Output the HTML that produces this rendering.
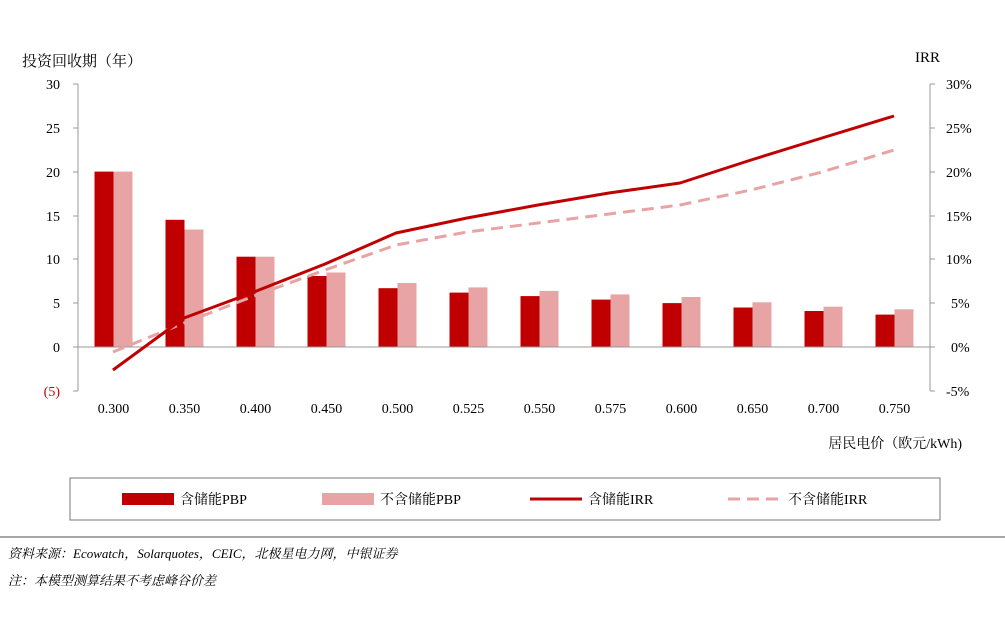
<!DOCTYPE html>
<html><head><meta charset="utf-8"><style>
body{margin:0;background:#fff;}
svg text{font-family:"Liberation Serif","Noto Serif CJK SC",serif;}
</style></head><body>
<svg width="1005" height="613" xmlns="http://www.w3.org/2000/svg">
<rect width="1005" height="613" fill="#fff"/>
<text x="22" y="66" font-size="15" font-family="Liberation Sans,Noto Sans CJK SC,sans-serif">投资回收期（年）</text>
<text x="915" y="62" font-size="15">IRR</text>
<g font-size="14" text-anchor="end">
<text x="60" y="89">30</text><text x="60" y="133">25</text><text x="60" y="177">20</text>
<text x="60" y="221">15</text><text x="60" y="264">10</text><text x="60" y="308">5</text>
<text x="60" y="352">0</text><text x="60" y="396" fill="#c00000">(5)</text>
</g>
<g font-size="14" text-anchor="start">
<text x="946" y="89">30%</text><text x="946" y="133">25%</text><text x="946" y="177">20%</text>
<text x="946" y="221">15%</text><text x="946" y="264">10%</text><text x="951" y="308">5%</text>
<text x="951" y="352">0%</text><text x="946" y="396">-5%</text>
</g>
<g fill="#c00000">
<rect x="94.5" y="171.6" width="19" height="175.4"/>
<rect x="165.5" y="219.8" width="19" height="127.2"/>
<rect x="236.5" y="256.7" width="19" height="90.3"/>
<rect x="307.5" y="276" width="19" height="71"/>
<rect x="378.5" y="288.2" width="19" height="58.8"/>
<rect x="449.5" y="292.6" width="19" height="54.4"/>
<rect x="520.5" y="296.1" width="19" height="50.9"/>
<rect x="591.5" y="299.6" width="19" height="47.4"/>
<rect x="662.5" y="303.1" width="19" height="43.9"/>
<rect x="733.5" y="307.5" width="19" height="39.5"/>
<rect x="804.5" y="311" width="19" height="36"/>
<rect x="875.5" y="314.6" width="19" height="32.4"/>
</g>
<g fill="#e8a4a4">
<rect x="113.5" y="171.6" width="19" height="175.4"/>
<rect x="184.5" y="229.5" width="19" height="117.5"/>
<rect x="255.5" y="256.7" width="19" height="90.3"/>
<rect x="326.5" y="272.5" width="19" height="74.5"/>
<rect x="397.5" y="283" width="19" height="64"/>
<rect x="468.5" y="287.4" width="19" height="59.6"/>
<rect x="539.5" y="290.9" width="19" height="56.1"/>
<rect x="610.5" y="294.4" width="19" height="52.6"/>
<rect x="681.5" y="297" width="19" height="50"/>
<rect x="752.5" y="302.3" width="19" height="44.7"/>
<rect x="823.5" y="306.7" width="19" height="40.3"/>
<rect x="894.5" y="309.3" width="19" height="37.7"/>
</g>
<g font-size="14" text-anchor="middle">
<text x="113.5" y="413">0.300</text><text x="184.5" y="413">0.350</text><text x="255.5" y="413">0.400</text>
<text x="326.5" y="413">0.450</text><text x="397.5" y="413">0.500</text><text x="468.5" y="413">0.525</text>
<text x="539.5" y="413">0.550</text><text x="610.5" y="413">0.575</text><text x="681.5" y="413">0.600</text>
<text x="752.5" y="413">0.650</text><text x="823.5" y="413">0.700</text><text x="894.5" y="413">0.750</text>
</g>
<g stroke="#999" stroke-width="1">
<line x1="78" y1="84" x2="78" y2="391"/><line x1="930" y1="84" x2="930" y2="391"/>
<line x1="78" y1="347" x2="930" y2="347"/>
<line x1="73" y1="84" x2="78" y2="84"/><line x1="73" y1="128" x2="78" y2="128"/><line x1="73" y1="172" x2="78" y2="172"/><line x1="73" y1="216" x2="78" y2="216"/><line x1="73" y1="259" x2="78" y2="259"/><line x1="73" y1="303" x2="78" y2="303"/><line x1="73" y1="347" x2="78" y2="347"/><line x1="73" y1="391" x2="78" y2="391"/>
<line x1="930" y1="84" x2="935" y2="84"/><line x1="930" y1="128" x2="935" y2="128"/><line x1="930" y1="172" x2="935" y2="172"/><line x1="930" y1="216" x2="935" y2="216"/><line x1="930" y1="259" x2="935" y2="259"/><line x1="930" y1="303" x2="935" y2="303"/><line x1="930" y1="347" x2="935" y2="347"/><line x1="930" y1="391" x2="935" y2="391"/>
</g>
<polyline fill="none" stroke="#e8a4a4" stroke-width="3" stroke-dasharray="12,7" points="113,352 184,323 254,296 325,270 396,245 467,232 538,223 609,214 680,205 751,190 822,172 894,150"/>
<polyline fill="none" stroke="#c00000" stroke-width="3" stroke-linejoin="round" points="113,370 184,318 254,292 325,264 396,233 467,218 538,205 609,193 680,183 751,160 822,138 894,116"/>
<text x="962" y="448" font-size="14" text-anchor="end" font-family="Liberation Sans,Noto Sans CJK SC,sans-serif">居民电价（欧元/kWh)</text>
<rect x="70" y="478" width="870" height="42" fill="none" stroke="#777" stroke-width="1"/>
<rect x="122" y="493" width="52" height="12" fill="#c00000"/>
<text x="180" y="504" font-size="14" font-family="Liberation Sans,Noto Sans CJK SC,sans-serif">含储能PBP</text>
<rect x="322" y="493" width="52" height="12" fill="#e8a4a4"/>
<text x="380" y="504" font-size="14" font-family="Liberation Sans,Noto Sans CJK SC,sans-serif">不含储能PBP</text>
<line x1="530" y1="499" x2="582" y2="499" stroke="#c00000" stroke-width="3"/>
<text x="588" y="504" font-size="14" font-family="Liberation Sans,Noto Sans CJK SC,sans-serif">含储能IRR</text>
<line x1="728" y1="499" x2="782" y2="499" stroke="#e8a4a4" stroke-width="3" stroke-dasharray="12,7"/>
<text x="788" y="504" font-size="14" font-family="Liberation Sans,Noto Sans CJK SC,sans-serif">不含储能IRR</text>
<line x1="0" y1="537" x2="1005" y2="537" stroke="#888" stroke-width="1.5"/>
<text x="8" y="558" font-size="13" font-style="italic" font-family="Liberation Sans,Noto Sans CJK SC,sans-serif">资料来源：Ecowatch，Solarquotes，CEIC，北极星电力网，中银证券</text>
<text x="8" y="585" font-size="13" font-style="italic" font-family="Liberation Sans,Noto Sans CJK SC,sans-serif">注：本模型测算结果不考虑峰谷价差</text>
</svg>
</body></html>
